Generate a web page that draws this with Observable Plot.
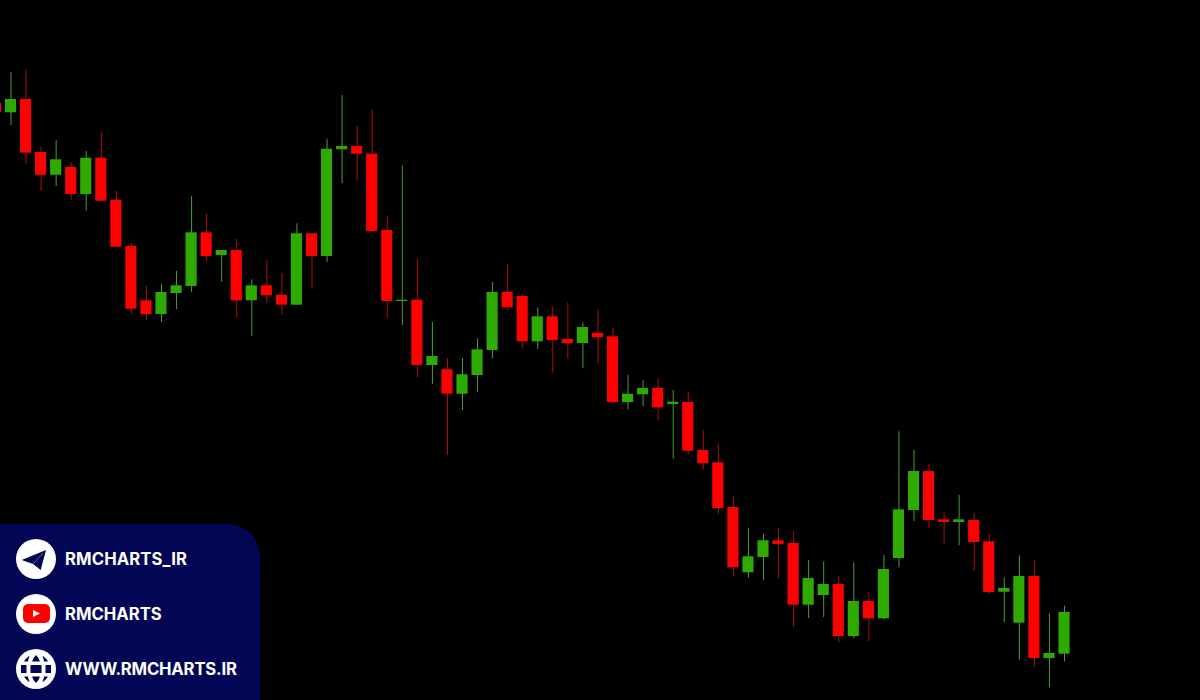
<!DOCTYPE html>
<html>
<head>
<meta charset="utf-8">
<script src="https://cdn.jsdelivr.net/npm/d3@7"></script>
<script src="https://cdn.jsdelivr.net/npm/@observablehq/plot@0.6"></script>
<style>
html,body{margin:0;padding:0;background:#000;width:1200px;height:700px;overflow:hidden}
#chart{position:absolute;left:0;top:0}
#panel{position:absolute;left:0;top:524px;width:260px;height:176px;background:#020654;border-top-right-radius:32px}
.row{position:absolute;left:16px;height:40px;display:flex;align-items:center;color:#fff;font:700 16.7px "Inter",sans-serif;white-space:nowrap}
.row svg{width:40px;height:40px;margin-right:9px;flex:none}
</style>
</head>
<body>
<div id="chart"></div>
<div id="panel">
  <div class="row" style="top:15px;letter-spacing:0.1px"><svg viewBox="0 0 40 40"><circle cx="20" cy="20" r="20" fill="#fff"/><path d="M5.7 21 L30 11 L24.7 31 L17 25 Z" fill="#020654"/><path d="M17 25 L27 14" stroke="#8a8fb0" stroke-width="0.7"/></svg>RMCHARTS_IR</div>
  <div class="row" style="top:70px"><svg viewBox="0 0 40 40"><circle cx="20" cy="20" r="20" fill="#fff"/><rect x="7" y="10" width="27" height="19" rx="5" fill="#f00"/><path d="M17 16 L24 19.5 L17 23 Z" fill="#fff"/></svg>RMCHARTS</div>
  <div class="row" style="top:125px;letter-spacing:-0.2px"><svg viewBox="0 0 40 40"><circle cx="20" cy="20" r="20" fill="#fff"/><g fill="#020654"><path d="M20 6 Q17 9 16 12.5 L24 12.5 Q23 9 20 6 Z M20 34 Q17 31 16 27.5 L24 27.5 Q23 31 20 34 Z"/><path d="M12.5 7.5 Q9.5 9.5 8 12.5 L12 12.5 Q12.3 10 13.5 7 Z M27.5 7.5 Q30.5 9.5 32 12.5 L28 12.5 Q27.7 10 26.5 7 Z M12.5 32.5 Q9.5 30.5 8 27.5 L12 27.5 Q12.3 30 13.5 33 Z M27.5 32.5 Q30.5 30.5 32 27.5 L28 27.5 Q27.7 30 26.5 33 Z"/><rect x="5" y="16" width="5.5" height="8"/><rect x="14.5" y="16" width="11" height="8"/><rect x="29.5" y="16" width="5.5" height="8"/></g></svg>WWW.RMCHARTS.IR</div>
</div>
<script>
const opens = [597.3,587.7,601,548,525.3,533,506,542.3,500.3,454,399.7,386,407,414,467.7,445,450,399.7,414.7,405.3,395.3,466.7,444,550.7,554,546.3,470,399,400.3,335,330.7,306.3,325,350,408,404,358.7,383.7,361,357,367.3,363.7,298,305.7,312,296,298,250,237.7,193,127.7,143,159.7,157,95.3,105,116,64,99,81.7,142,190,229,180.7,178,180,158.7,108.3,77.3,124,42,46.3];
const highs = [597.3,628,630,553,560,538,549,567.7,509,457,414,416,429,504,486.7,450,461,420.7,440,426.7,476.7,466.7,561.3,605,574,590,484,534.7,441,378,341.7,342,361.7,418,436,406.7,392.7,393.3,397.5,377.7,390,372.7,325,320,321.7,310,308.7,269.7,255.7,203.3,171.7,166.3,171.7,169,140,138.7,123.7,137.7,107.7,145,268.7,250,236,187.7,205,187,166.7,122.7,144.7,139.7,86.7,94.3];
const lows = [588,575,536,509.3,514,500,489.3,499.3,453.3,386,379.7,378,391,408,439,418.3,382.7,364,397.3,386,395.3,411,438,517,519,467.3,382,375,323,316,245,290,308,341.7,390,352.3,351,327.5,341.7,332,336.7,296.3,290.7,294,280,241.3,245.3,230.7,186,123.3,122.3,120,122,73,82,83,58,62,59,80.7,132.7,179,172,155.7,155,129,106,78,40.3,33,12.7,38.7];
const closes = [588,601,547.3,525.3,540.7,506,542.3,499.3,453.3,391.3,386,408,414.7,467.7,444,450,399.7,414.7,404.7,395.3,466.7,444,551.3,554,546.3,469,399,400.3,335,344,306.3,325.7,350.7,408,392.7,358.7,383.7,360,356.7,373,362.7,298,306.3,312,292.7,298.3,249.3,236.7,192,132.7,143.7,159.7,156,95.3,122,116,64,99,81.7,131,190.7,229,180,178,180.7,158,108,112,124,42,47,88];

const candles = opens.map((open, i) => ({i, open, high: highs[i], low: lows[i], close: closes[i], up: closes[i] >= opens[i]}));
const half = 0.37;

const chart = Plot.plot({
  width: 1200,
  height: 700,
  margin: 0,
  style: {background: "#000", display: "block", overflow: "visible"},
  x: {domain: [0.3023, 80.0365], range: [0, 1200], axis: null},
  y: {domain: [0, 700], range: [700, 0], axis: null},
  marks: [
    Plot.ruleX(candles, {x: "i", y1: "low", y2: "high", stroke: d => d.up ? "#4f9a3a" : "#b01010", strokeWidth: 1}),
    Plot.rect(candles, {
      x1: d => d.i - half,
      x2: d => d.i + half,
      y1: "open",
      y2: "close",
      fill: d => d.up ? "#2faa00" : "#ff0000"
    })
  ]
});
document.getElementById("chart").appendChild(chart);
</script>
</body>
</html>
